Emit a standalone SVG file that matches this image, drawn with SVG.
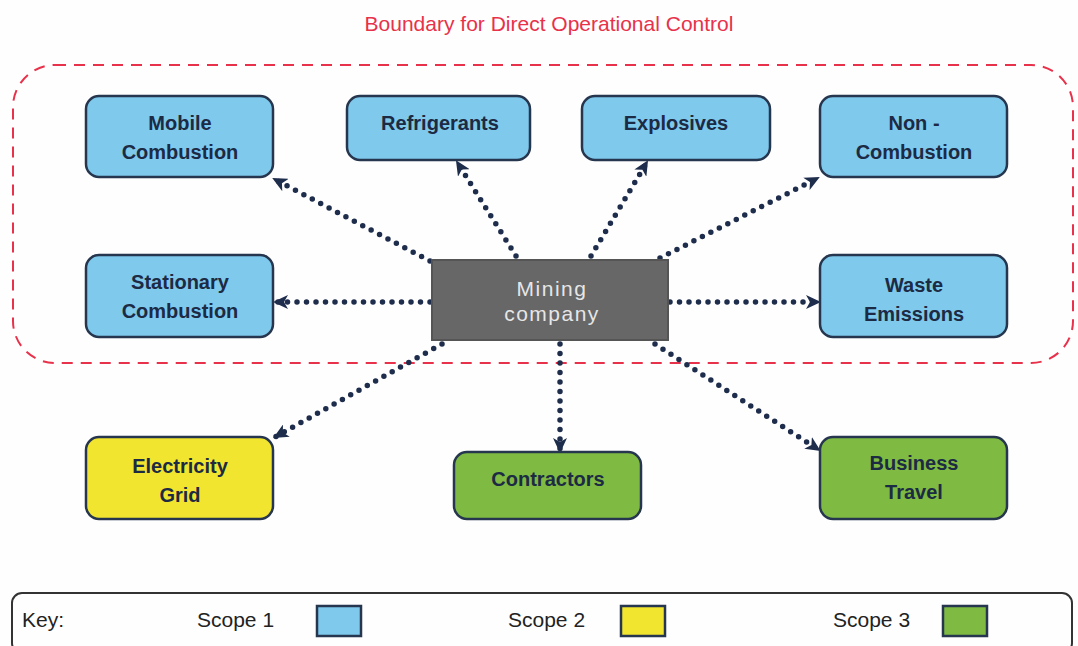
<svg xmlns="http://www.w3.org/2000/svg" width="1078" height="646" viewBox="0 0 1078 646">
<defs>
<marker id="ah" markerWidth="15" markerHeight="14" refX="13" refY="7" orient="auto" markerUnits="userSpaceOnUse" viewBox="0 0 15 14">
<path d="M0,0 L15,7 L0,14 L4,7 Z" fill="#1e2d4c"/>
</marker>
<style>
.n{stroke:#26364e;stroke-width:2.5}
.b{fill:#7ec9ec}
.y{fill:#f1e52f}
.g{fill:#7fbb42}
.t{font-family:"Liberation Sans",Arial,sans-serif;font-size:20px;font-weight:bold;fill:#1c2a44;text-anchor:middle}
.c{stroke:#1e2d4c;stroke-width:5.5;stroke-linecap:round;stroke-dasharray:0 9.5;fill:none}
.k{font-family:"Liberation Sans",Arial,sans-serif;font-size:21px;fill:#222}
</style>
</defs>
<rect width="1078" height="646" fill="#fefefe"/>
<text x="549" y="31" font-family="Liberation Sans,Arial,sans-serif" font-size="21" fill="#e8314a" text-anchor="middle">Boundary for Direct Operational Control</text>
<rect x="13" y="65" width="1060" height="298" rx="42" fill="none" stroke="#e8314a" stroke-width="2" stroke-dasharray="11 8"/>
<g id="connectors">
<line class="c" x1="430" y1="261" x2="274" y2="179" marker-end="url(#ah)"/>
<line class="c" x1="516" y1="256" x2="457" y2="162" marker-end="url(#ah)"/>
<line class="c" x1="591" y1="256" x2="647" y2="162" marker-end="url(#ah)"/>
<line class="c" x1="660" y1="258" x2="818" y2="178" marker-end="url(#ah)"/>
<line class="c" x1="430" y1="302" x2="275" y2="302" marker-end="url(#ah)"/>
<line class="c" x1="670" y1="302" x2="819" y2="302" marker-end="url(#ah)"/>
<line class="c" x1="442" y1="344" x2="275" y2="437" marker-end="url(#ah)"/>
<line class="c" x1="560" y1="344" x2="560" y2="451" marker-end="url(#ah)"/>
<line class="c" x1="655" y1="344" x2="819" y2="450" marker-end="url(#ah)"/>
</g>
<g id="mobile"><rect class="n b" x="86" y="96" width="187" height="81" rx="13"/><text class="t" x="180" y="130">Mobile</text><text class="t" x="180" y="159">Combustion</text></g>
<g id="refrigerants"><rect class="n b" x="347" y="96" width="183" height="64" rx="13"/><text class="t" x="440" y="130">Refrigerants</text></g>
<g id="explosives"><rect class="n b" x="582" y="96" width="188" height="64" rx="13"/><text class="t" x="676" y="130">Explosives</text></g>
<g id="noncombustion"><rect class="n b" x="820" y="96" width="187" height="81" rx="13"/><text class="t" x="914" y="130">Non -</text><text class="t" x="914" y="159">Combustion</text></g>
<g id="stationary"><rect class="n b" x="86" y="255" width="187" height="82" rx="13"/><text class="t" x="180" y="289">Stationary</text><text class="t" x="180" y="318">Combustion</text></g>
<g id="waste"><rect class="n b" x="820" y="255" width="187" height="82" rx="13"/><text class="t" x="914" y="292">Waste</text><text class="t" x="914" y="321">Emissions</text></g>
<g id="mining"><rect x="432" y="260" width="236" height="80" fill="#676767" stroke="#555" stroke-width="2"/><text x="552" y="296" font-family="Liberation Sans,Arial,sans-serif" font-size="21" fill="#e6e6e6" text-anchor="middle" letter-spacing="1.5">Mining</text><text x="552" y="321" font-family="Liberation Sans,Arial,sans-serif" font-size="21" fill="#e6e6e6" text-anchor="middle" letter-spacing="1.5">company</text></g>
<g id="electricity"><rect class="n y" x="86" y="437" width="187" height="82" rx="13"/><text class="t" x="180" y="473">Electricity</text><text class="t" x="180" y="502">Grid</text></g>
<g id="contractors"><rect class="n g" x="454" y="452" width="187" height="67" rx="13"/><text class="t" x="548" y="486">Contractors</text></g>
<g id="business"><rect class="n g" x="820" y="437" width="187" height="82" rx="13"/><text class="t" x="914" y="470">Business</text><text class="t" x="914" y="499">Travel</text></g>
<g id="key">
<rect x="12" y="593" width="1060" height="60" rx="10" fill="none" stroke="#333" stroke-width="2"/>
<text class="k" x="22" y="627">Key:</text>
<text class="k" x="197" y="627">Scope 1</text>
<rect x="317" y="606" width="44" height="30" fill="#7ec9ec" stroke="#26364e" stroke-width="2.5"/>
<text class="k" x="508" y="627">Scope 2</text>
<rect x="621" y="606" width="44" height="30" fill="#f1e52f" stroke="#26364e" stroke-width="2.5"/>
<text class="k" x="833" y="627">Scope 3</text>
<rect x="943" y="606" width="44" height="30" fill="#7fbb42" stroke="#26364e" stroke-width="2.5"/>
</g>
</svg>
